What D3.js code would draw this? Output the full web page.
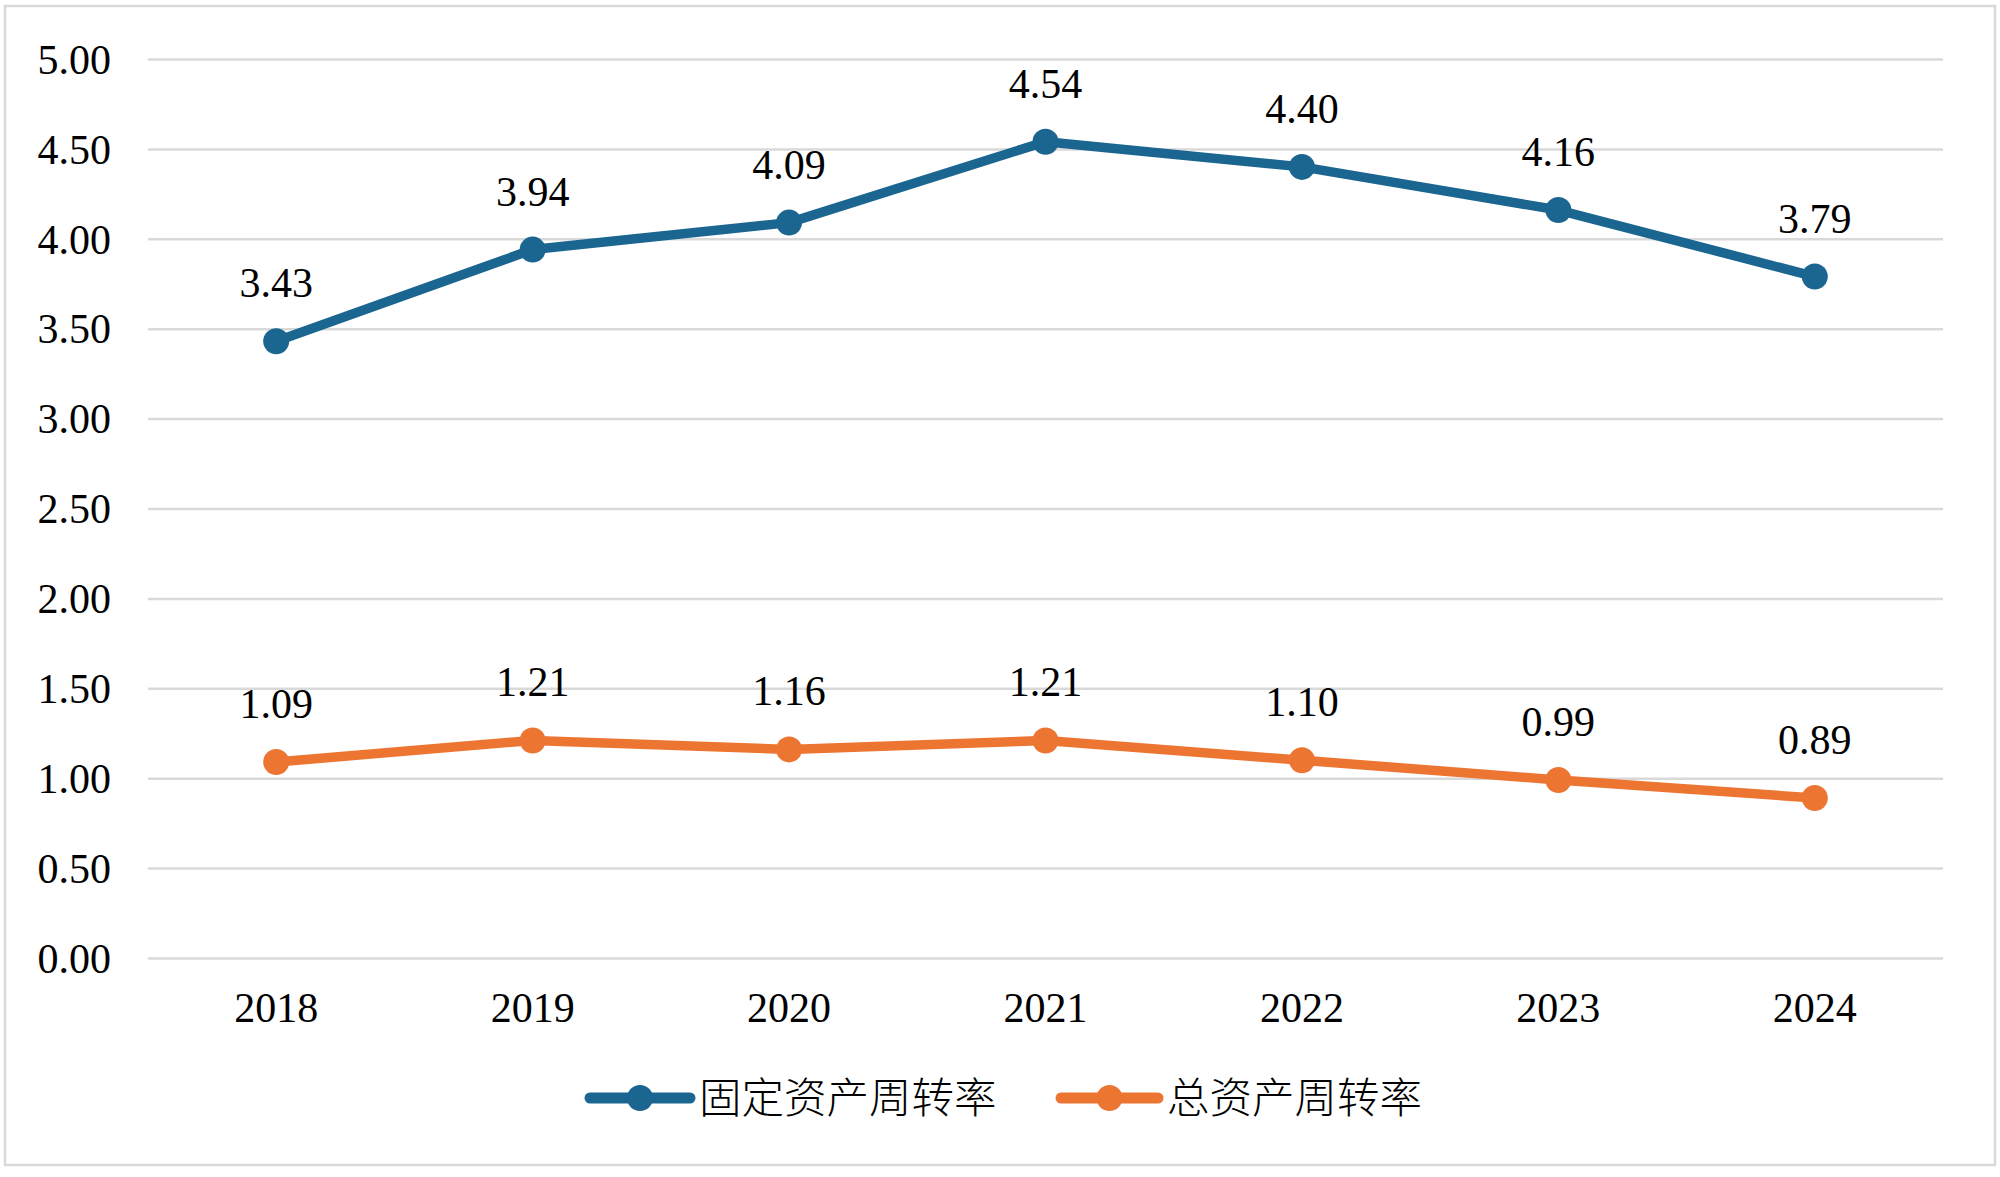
<!DOCTYPE html>
<html>
<head>
<meta charset="utf-8">
<script src="https://cdn.jsdelivr.net/npm/d3@7"></script>
<style>
  html, body { margin: 0; padding: 0; background: #fff; }
  svg { display: block; }
</style>
</head>
<body>
<svg id="chart" width="2000" height="1177"></svg>
<script>
const years = ["2018", "2019", "2020", "2021", "2022", "2023", "2024"];
const fixedAssetTurnover = [3.43, 3.94, 4.09, 4.54, 4.40, 4.16, 3.79];
const totalAssetTurnover = [1.09, 1.21, 1.16, 1.21, 1.10, 0.99, 0.89];
const yTicks = [0, 0.5, 1, 1.5, 2, 2.5, 3, 3.5, 4, 4.5, 5];
const seriesNames = ["固定资产周转率", "总资产周转率"];
const seriesColors = ["#1b6690", "#ed7532"];

const svg = d3.select("#chart");
const W = 2000, H = 1177;
const plot = { left: 148, right: 1943, top: 59, bottom: 958 };
const serif = "'Liberation Serif', 'Times New Roman', serif";
const cjk = "'Noto Sans CJK SC', sans-serif";

svg.append("rect").attr("x", 0).attr("y", 0).attr("width", W).attr("height", H).attr("fill", "#fff");
svg.append("rect").attr("x", 5).attr("y", 6).attr("width", 1990).attr("height", 1159)
  .attr("fill", "none").attr("stroke", "#d9d9d9").attr("stroke-width", 2.5);

const x = d3.scaleBand().domain(years).range([plot.left, plot.right]).padding(0);
const y = d3.scaleLinear().domain([0, 5]).range([plot.bottom, plot.top]);
const cx = d => x(d) + x.bandwidth() / 2;

// gridlines
const yAxis = d3.axisLeft(y).tickValues(yTicks).tickSize(-(plot.right - plot.left)).tickPadding(37)
  .tickFormat(d3.format(".2f"));
const gy = svg.append("g").attr("transform", `translate(${plot.left},0)`).call(yAxis);
gy.select(".domain").remove();
gy.selectAll(".tick line").attr("stroke", "#d9d9d9").attr("stroke-width", 2.5);
gy.selectAll(".tick text").attr("font-family", serif).attr("font-size", 42).attr("fill", "#000")
  .attr("dy", "0.34em");

const xAxis = d3.axisBottom(x).tickSize(0).tickPadding(34);
const gx = svg.append("g").attr("transform", `translate(0,${plot.bottom})`).call(xAxis);
gx.select(".domain").remove();
gx.selectAll(".tick text").attr("font-family", serif).attr("font-size", 42).attr("fill", "#000");

const series = [fixedAssetTurnover, totalAssetTurnover];
const line = d3.line().x((d, i) => cx(years[i])).y(d => y(d));

series.forEach((vals, si) => {
  const g = svg.append("g");
  g.append("path").datum(vals).attr("d", line).attr("fill", "none")
    .attr("stroke", seriesColors[si]).attr("stroke-width", 9.5)
    .attr("stroke-linejoin", "round").attr("stroke-linecap", "round");
  g.selectAll("circle").data(vals).join("circle")
    .attr("cx", (d, i) => cx(years[i])).attr("cy", d => y(d)).attr("r", 13)
    .attr("fill", seriesColors[si]);
  g.selectAll("text").data(vals).join("text")
    .attr("x", (d, i) => cx(years[i])).attr("y", d => y(d) - 44)
    .attr("text-anchor", "middle").attr("font-family", serif).attr("font-size", 42)
    .attr("fill", "#000").text(d => d3.format(".2f")(d));
});

// legend
const legendItems = [
  { x1: 590, x2: 690, tx: 699 },
  { x1: 1061, x2: 1158, tx: 1167 }
];
const ly = 1098;
legendItems.forEach((it, i) => {
  const g = svg.append("g");
  g.append("line").attr("x1", it.x1).attr("x2", it.x2).attr("y1", ly).attr("y2", ly)
    .attr("stroke", seriesColors[i]).attr("stroke-width", 11).attr("stroke-linecap", "round");
  g.append("circle").attr("cx", (it.x1 + it.x2) / 2).attr("cy", ly).attr("r", 13).attr("fill", seriesColors[i]);
  g.append("text").attr("x", it.tx).attr("y", ly).attr("dy", "0.36em")
    .attr("font-family", cjk).attr("font-size", 42.5).attr("font-weight", 300).attr("fill", "#000")
    .text(seriesNames[i]);
});
</script>
</body>
</html>
